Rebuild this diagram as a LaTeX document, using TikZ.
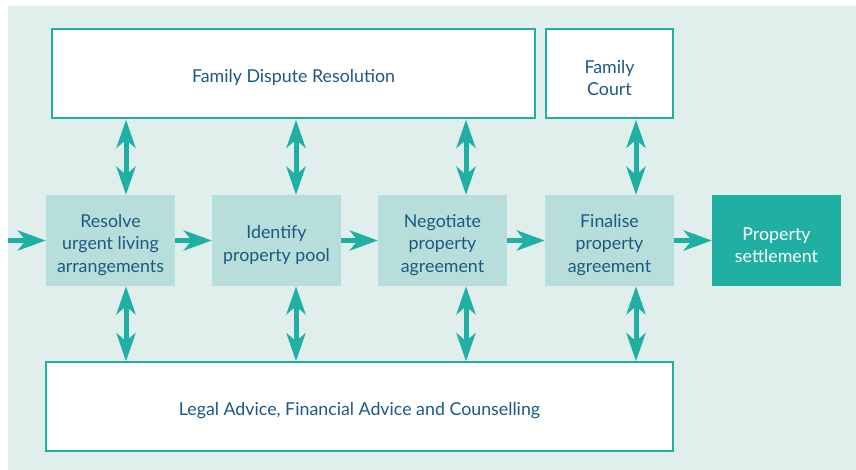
\documentclass[tikz,border=0pt]{standalone}
\usepackage{fontspec}
\setmainfont{Lato}
\usetikzlibrary{arrows.meta}
\definecolor{bgc}{HTML}{E0EFEB}
\definecolor{midc}{HTML}{B8DEDB}
\definecolor{tealc}{HTML}{20B0A3}
\definecolor{txtc}{HTML}{1A5A82}
\tikzset{
  whitebox/.style={draw=tealc, line width=1.5pt, fill=white, inner sep=0pt},
  midbox/.style={fill=midc, inner sep=0pt, minimum width=129pt, minimum height=91pt},
  endbox/.style={midbox, fill=tealc},
  wtxt/.style={inner sep=0pt, text=txtc, align=center, font=\fontsize{17.8}{21.5}\selectfont},
  mtxt/.style={inner sep=0pt, text=txtc, align=center, font=\fontsize{17.8}{22.5}\selectfont},
  etxt/.style={mtxt, text=white},
  flow/.style={line width=5pt, tealc, -{Stealth[length=28pt,width=20pt,inset=8pt]}},
  both/.style={line width=5pt, tealc, {Stealth[length=28pt,width=19pt,inset=8pt]}-{Stealth[length=28pt,width=19pt,inset=8pt]}}
}
\begin{document}
\begin{tikzpicture}[x=1pt,y=-1pt]
\useasboundingbox (0,0) rectangle (856,470);
\fill[bgc] (8,6) rectangle (856,470);
\node[whitebox, minimum width=483pt, minimum height=89pt] (fdr) at (293.5,73.5) {};
\node[whitebox, minimum width=127pt, minimum height=89pt] (fc) at (609.5,73.5) {};
\node[whitebox, minimum width=627pt, minimum height=89pt] (adv) at (359.5,406.5) {};
\node[midbox] (m1) at (110.5,240.5) {};
\node[midbox] (m2) at (276.5,240.5) {};
\node[midbox] (m3) at (442.5,240.5) {};
\node[midbox] (m4) at (609.5,240.5) {};
\node[endbox] (ps) at (776.5,240.5) {};
\node[wtxt] (fdrt) at ([yshift=-4.5pt]fdr.center) {\strut Family Dispute Resolution};
\node[wtxt] (fct) at ([yshift=-4.5pt]fc.center) {Family\\Court};
\node[wtxt] (advt) at ([yshift=-4.5pt]adv.center) {\strut Legal Advice, Financial Advice and Counselling};
\node[mtxt] (m1t) at ([yshift=-4.5pt]m1.center) {Resolve\\urgent living\\arrangements};
\node[mtxt] (m2t) at ([yshift=-4.5pt]m2.center) {Identify\\property pool};
\node[mtxt] (m3t) at ([yshift=-4.5pt]m3.center) {Negotiate\\property\\agreement};
\node[mtxt] (m4t) at ([yshift=-4.5pt]m4.center) {Finalise\\property\\agreement};
\node[etxt] (pst) at ([yshift=-4.5pt]ps.center) {Property\\settlement};
\coordinate (start) at (8,240.5);
\draw[flow] (start) -- (m1.west);
\draw[flow] (m1.east) -- (m2.west);
\draw[flow] (m2.east) -- (m3.west);
\draw[flow] (m3.east) -- (m4.west);
\draw[flow] (m4.east) -- (ps.west);
\foreach \n/\x/\t in {m1/126/fdr, m2/296/fdr, m3/466/fdr, m4/636/fc}{
  \draw[both] (\x,0 |- \t.south) ++(0,1) -- (\x,0 |- \n.north);
  \draw[both] (\x,0 |- \n.south) -- (\x,0 |- adv.north) ;
}
\end{tikzpicture}
\end{document}
